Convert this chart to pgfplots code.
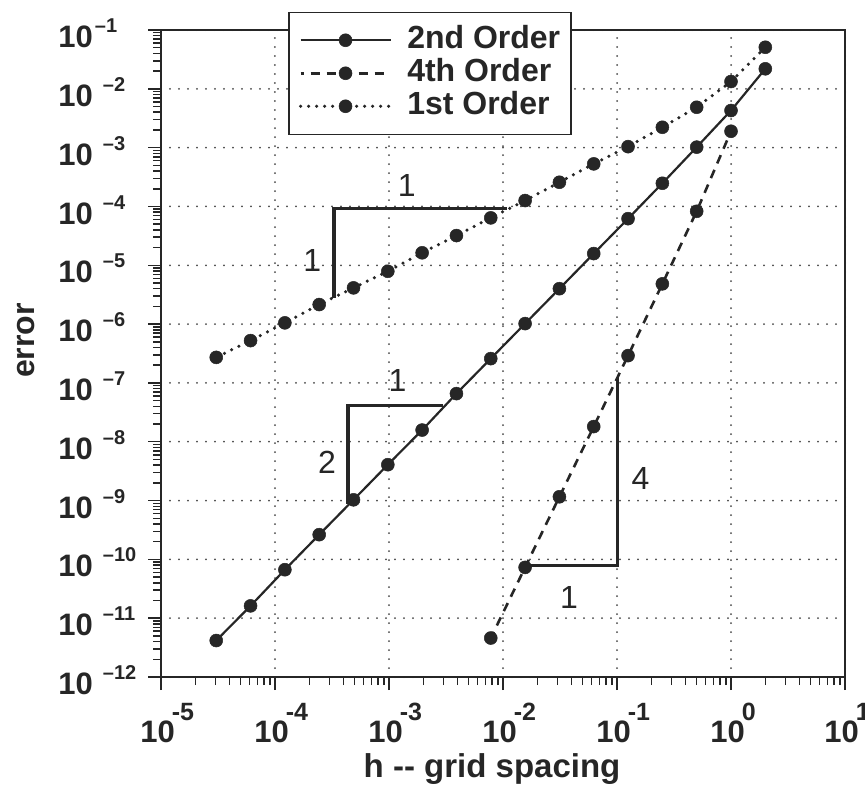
\documentclass[border=0pt]{standalone}
\usepackage{fontspec}
\setmainfont{Liberation Sans}
\usepackage{pgfplots}
\pgfplotsset{compat=1.18}
\definecolor{ink}{gray}{0.15}
\newcommand{\yl}[1]{\fontsize{15.5}{15.5}\selectfont\bfseries 10\hspace{5pt}\raisebox{7.5pt}{\fontsize{10}{10}\selectfont #1}}
\newcommand{\xl}[1]{\fontsize{15.5}{15.5}\selectfont\bfseries 10\kern-1.5pt\raisebox{11pt}{\fontsize{12.5}{12.5}\selectfont #1}}
\begin{document}
\begin{tikzpicture}
\begin{axis}[
  at={(0pt,0pt)}, anchor=south west,
  scale only axis, width=342pt, height=323.5pt,
  xmode=log, ymode=log,
  xmin=1e-5, xmax=10, ymin=1e-12, ymax=1e-1,
  axis line style={ink, line width=1pt},
  xtick={1e-5,1e-4,1e-3,1e-2,1e-1,1,10},
  xticklabels={\xl{-5},\xl{-4},\xl{-3},\xl{-2},\xl{-1},\xl{0},\xl{1}},
  minor xtick={2e-5,3e-5,4e-5,5e-5,6e-5,7e-5,8e-5,9e-5,
    2e-4,3e-4,4e-4,5e-4,6e-4,7e-4,8e-4,9e-4,
    2e-3,3e-3,4e-3,5e-3,6e-3,7e-3,8e-3,9e-3,
    2e-2,3e-2,4e-2,5e-2,6e-2,7e-2,8e-2,9e-2,
    0.2,0.3,0.4,0.5,0.6,0.7,0.8,0.9,2,3,4,5,6,7,8,9},
  ytick={1e-12,1e-11,1e-10,1e-9,1e-8,1e-7,1e-6,1e-5,1e-4,1e-3,1e-2,1e-1},
  yticklabels={\yl{–12},\yl{–11},\yl{–10},\yl{–9},\yl{–8},\yl{–7},\yl{–6},\yl{–5},\yl{–4},\yl{–3},\yl{–2},\yl{\kern-4pt–1}},
  minor ytick={2e-12,3e-12,4e-12,5e-12,6e-12,7e-12,8e-12,9e-12,
    2e-11,3e-11,4e-11,5e-11,6e-11,7e-11,8e-11,9e-11,
    2e-10,3e-10,4e-10,5e-10,6e-10,7e-10,8e-10,9e-10,
    2e-9,3e-9,4e-9,5e-9,6e-9,7e-9,8e-9,9e-9,
    2e-8,3e-8,4e-8,5e-8,6e-8,7e-8,8e-8,9e-8,
    2e-7,3e-7,4e-7,5e-7,6e-7,7e-7,8e-7,9e-7,
    2e-6,3e-6,4e-6,5e-6,6e-6,7e-6,8e-6,9e-6,
    2e-5,3e-5,4e-5,5e-5,6e-5,7e-5,8e-5,9e-5,
    2e-4,3e-4,4e-4,5e-4,6e-4,7e-4,8e-4,9e-4,
    2e-3,3e-3,4e-3,5e-3,6e-3,7e-3,8e-3,9e-3,
    2e-2,3e-2,4e-2,5e-2,6e-2,7e-2,8e-2,9e-2},
  tick align=outside, xtick pos=bottom, ytick pos=left,
  major tick length=6.5pt, minor tick length=4pt,
  every tick/.style={ink, line width=0.75pt},
  xticklabel style={anchor=base west, inner sep=0pt, yshift=-26pt, xshift=-10.5pt, text=ink},
  yticklabel style={anchor=base west, inner sep=0pt, xshift=-45pt, yshift=-8.8pt, text=ink},
  grid=major,
  major grid style={ink!85, line width=1pt, dash pattern=on 0pt off 4.5pt, line cap=round},
  xlabel={h -{}- grid spacing},
  xlabel style={at={(rel axis cs:0.484,-0.1546)}, anchor=base, font=\fontsize{16.5}{16.5}\selectfont\bfseries, text=ink},
  ylabel={error},
  ylabel style={at={(rel axis cs:-0.197,0.52)}, anchor=center, font=\fontsize{16}{16}\selectfont\bfseries, text=ink},
  legend style={at={(0.1857,1.0286)}, anchor=north west, draw=ink, line width=0.75pt, fill=white,
    font=\fontsize{16}{16.5}\selectfont\bfseries, text=ink, inner xsep=5pt, inner ysep=6pt,
    nodes={inner sep=0.5pt, text height=11.5pt, text depth=3.5pt}, row sep=0.5pt,
    /tikz/every odd column/.append style={column sep=7pt}},
  legend cell align=left,
  legend image code/.code={\draw[mark repeat=2,mark phase=2,#1] plot coordinates {(0pt,0pt) (22.5pt,0pt) (45pt,0pt)};},
]
% 2nd order
\addplot[ink, line width=1.1pt, mark=*, mark size=3.25pt, mark options={solid, fill=ink, line width=0.25pt}] coordinates {
(2,2.19e-2) (1,4.28e-3) (0.5,1.02e-3) (0.25,2.48e-4) (0.125,6.2e-5) (0.0625,1.58e-5)
(0.03125,4.0e-6) (0.015625,1.02e-6) (0.0078125,2.59e-7) (0.00390625,6.58e-8)
(0.001953125,1.58e-8) (0.0009765625,4.07e-9) (0.00048828125,1.03e-9)
(0.000244140625,2.63e-10) (0.0001220703125,6.67e-11) (6.103515625e-5,1.62e-11)
(3.0517578125e-5,4.17e-12)};
\addlegendentry{2nd Order}
% 4th order
\addplot[ink, line width=1.3pt, dash pattern=on 4.5pt off 3.5pt, dash phase=3pt, mark=*, mark size=3.25pt, mark options={solid, fill=ink, line width=0.25pt}] coordinates {
(1,1.9e-3) (0.5,8.28e-5) (0.25,4.83e-6) (0.125,2.91e-7) (0.0625,1.81e-8)
(0.03125,1.16e-9) (0.015625,7.31e-11) (0.0078125,4.60e-12)};
\addlegendentry{4th Order}
% 1st order
\addplot[ink, line width=1.75pt, dash pattern=on 0pt off 4pt, line cap=round, mark=*, mark size=3.25pt, mark options={solid, fill=ink, line width=0.25pt}] coordinates {
(2,5.09e-2) (1,1.33e-2) (0.5,4.86e-3) (0.25,2.22e-3) (0.125,1.04e-3) (0.0625,5.30e-4)
(0.03125,2.58e-4) (0.015625,1.26e-4) (0.0078125,6.40e-5) (0.00390625,3.20e-5)
(0.001953125,1.63e-5) (0.0009765625,7.91e-6) (0.00048828125,4.13e-6)
(0.000244140625,2.15e-6) (0.0001220703125,1.05e-6) (6.103515625e-5,5.24e-7)
(3.0517578125e-5,2.72e-7)};
\addlegendentry{1st Order}
% slope triangles
\addplot[ink, line width=1.75pt, line join=miter, no marks, forget plot] coordinates {(3.3e-4,2.8e-6) (3.3e-4,9.2e-5) (1.08e-2,9.2e-5)};
\addplot[ink, line width=1.75pt, line join=miter, no marks, forget plot] coordinates {(4.39e-4,8.75e-10) (4.39e-4,4.11e-8) (2.98e-3,4.11e-8)};
\addplot[ink, line width=1.75pt, line join=miter, no marks, forget plot] coordinates {(1.55e-2,7.8e-11) (0.101,7.8e-11) (0.101,1.28e-7)};
\node[font=\fontsize{16}{16}\selectfont, text=ink] at (axis cs:2.12e-4,1.2e-5) {1};
\node[font=\fontsize{16}{16}\selectfont, text=ink] at (axis cs:1.43e-3,2.26e-4) {1};
\node[font=\fontsize{16}{16}\selectfont, text=ink] at (axis cs:2.86e-4,4.47e-9) {2};
\node[font=\fontsize{16}{16}\selectfont, text=ink] at (axis cs:1.19e-3,1.09e-7) {1};
\node[font=\fontsize{16}{16}\selectfont, text=ink] at (axis cs:0.161,2.33e-9) {4};
\node[font=\fontsize{16}{16}\selectfont, text=ink] at (axis cs:3.8e-2,2.26e-11) {1};
\end{axis}
\pgfresetboundingbox
\useasboundingbox (-80.5pt,-57.5pt) rectangle (352pt,338.5pt);
\end{tikzpicture}
\end{document}
